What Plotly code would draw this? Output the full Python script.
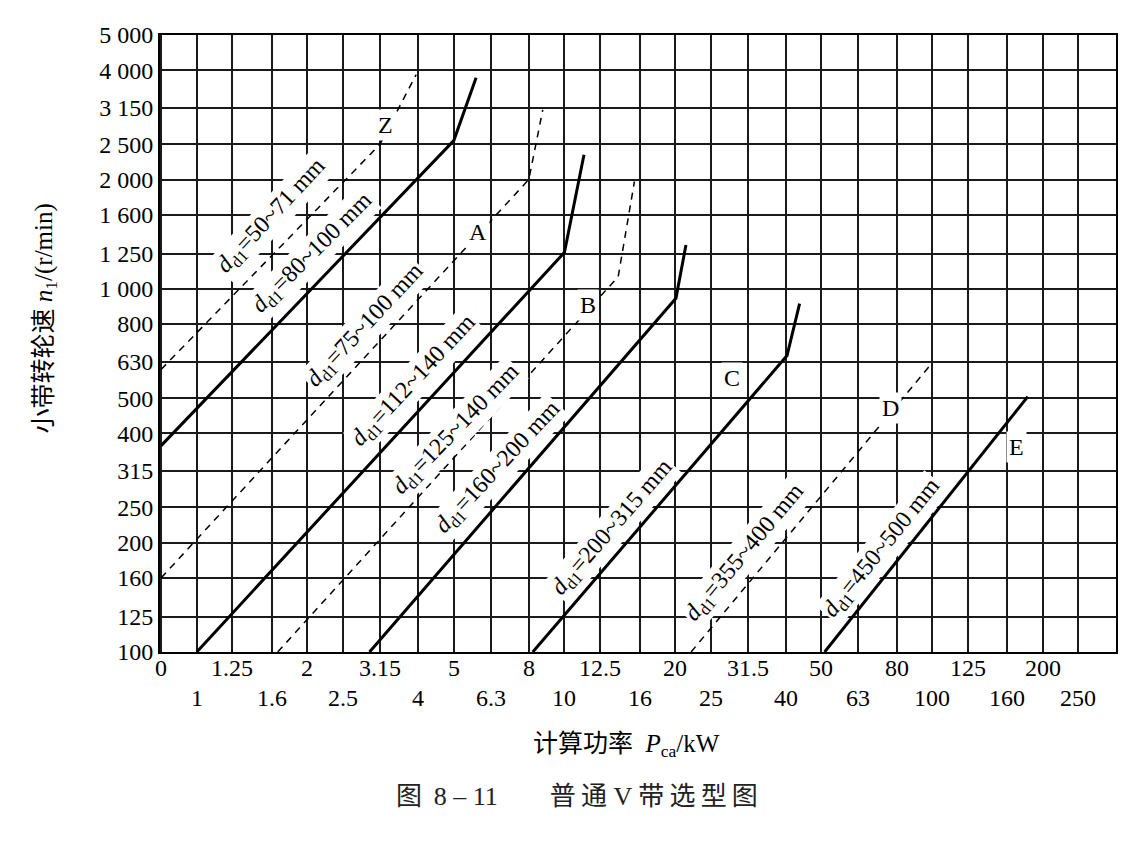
import math
import plotly.graph_objects as go

# ---------------- data ----------------
x_grid = [0.8, 1, 1.25, 1.6, 2, 2.5, 3.15, 4, 5, 6.3, 8, 10, 12.5, 16, 20, 25,
          31.5, 40, 50, 63, 80, 100, 125, 160, 200, 250, 315]
x_upper_vals = [0.8, 1.25, 2, 3.15, 5, 8, 12.5, 20, 31.5, 50, 80, 125, 200]
x_upper_text = ["0", "1.25", "2", "3.15", "5", "8", "12.5", "20", "31.5", "50", "80", "125", "200"]
x_lower_vals = [1, 1.6, 2.5, 4, 6.3, 10, 16, 25, 40, 63, 100, 160, 250]
x_lower_text = ["1", "1.6", "2.5", "4", "6.3", "10", "16", "25", "40", "63", "100", "160", "250"]
y_ticks = [100, 125, 160, 200, 250, 315, 400, 500, 630, 800, 1000, 1250, 1600, 2000,
           2500, 3150, 4000, 5000]
y_ticktext = ["100", "125", "160", "200", "250", "315", "400", "500", "630", "800",
              "1 000", "1 250", "1 600", "2 000", "2 500", "3 150", "4 000", "5 000"]

z_small_p = [0.8, 3.15, 3.95]
z_small_n = [600, 2500, 3890]
z_large_p = [0.8, 5.0, 5.75]
z_large_n = [370, 2560, 3810]
a_small_p = [0.8, 8.0, 8.73]
a_small_n = [160, 2000, 3110]
a_large_p = [1.0, 10.0, 11.3]
a_large_n = [100, 1260, 2340]
b_small_p = [1.66, 14.0, 15.5]
b_small_n = [100, 1080, 1975]
b_large_p = [2.95, 20.1, 21.4]
b_large_n = [100, 942, 1320]
c_p = [8.2, 40.3, 43.6]
c_n = [100, 655, 910]
d_p = [22.1, 98]
d_n = [100, 610]
e_p = [51, 182]
e_n = [100, 505]

curve_labels = ["<i>d</i><sub>d1</sub>=50~71 mm", "<i>d</i><sub>d1</sub>=80~100 mm",
                "<i>d</i><sub>d1</sub>=75~100 mm", "<i>d</i><sub>d1</sub>=112~140 mm",
                "<i>d</i><sub>d1</sub>=125~140 mm", "<i>d</i><sub>d1</sub>=160~200 mm",
                "<i>d</i><sub>d1</sub>=200~315 mm", "<i>d</i><sub>d1</sub>=355~400 mm",
                "<i>d</i><sub>d1</sub>=450~500 mm"]
curve_label_p = [1.6, 2.07, 2.87, 3.9, 5.07, 6.6, 13.5, 31, 73.4]
curve_label_n = [1590, 1257, 791, 558, 409, 321, 220, 187, 193]
curve_label_angle = [-47, -45, -47, -47, -46, -47, -49, -50, -51]

type_labels = ["Z", "A", "B", "C", "D", "E"]
type_label_p = [3.27, 5.82, 11.58, 28.5, 76.8, 170]
type_label_n = [2830, 1436, 903, 569, 470, 367]

FONT = "Liberation Serif, 'Noto Sans CJK SC', serif"
TS = "\u2009"  # thin space used for the spaced-out caption lettering

fig = go.Figure()
curves = [
    (z_small_p, z_small_n, "dash"), (z_large_p, z_large_n, "solid"),
    (a_small_p, a_small_n, "dash"), (a_large_p, a_large_n, "solid"),
    (b_small_p, b_small_n, "dash"), (b_large_p, b_large_n, "solid"),
    (c_p, c_n, "solid"), (d_p, d_n, "dash"), (e_p, e_n, "solid"),
]
for px, py, style in curves:
    if style == "dash":
        line = dict(color="black", width=1.5, dash="7px,6px")
    else:
        line = dict(color="black", width=3)
    fig.add_trace(go.Scatter(x=px, y=py, mode="lines", line=line,
                             showlegend=False, hoverinfo="skip"))

annotations = []
for t, p, n, a in zip(curve_labels, curve_label_p, curve_label_n, curve_label_angle):
    annotations.append(dict(x=math.log10(p), y=math.log10(n), xref="x", yref="y",
                            xanchor="center", yanchor="middle",
                            text=t, textangle=a, showarrow=False, bgcolor="white",
                            borderpad=1, font=dict(family=FONT, size=24, color="black")))
for t, p, n in zip(type_labels, type_label_p, type_label_n):
    annotations.append(dict(x=math.log10(p), y=math.log10(n), xref="x", yref="y",
                            xanchor="center", yanchor="middle",
                            text=t, showarrow=False, bgcolor="white", borderpad=2,
                            font=dict(family=FONT, size=24, color="black")))

# two rows of x tick labels
for v, t in zip(x_upper_vals, x_upper_text):
    annotations.append(dict(x=math.log10(v), y=0, xref="x", yref="paper",
                            xanchor="center", yanchor="middle", yshift=-16,
                            text=t, showarrow=False,
                            font=dict(family=FONT, size=24, color="black")))
for v, t in zip(x_lower_vals, x_lower_text):
    annotations.append(dict(x=math.log10(v), y=0, xref="x", yref="paper",
                            xanchor="center", yanchor="middle", yshift=-46,
                            text=t, showarrow=False,
                            font=dict(family=FONT, size=24, color="black")))

annotations.append(dict(x=-0.12, y=0.541, xref="paper", yref="paper",
                        xanchor="center", yanchor="middle",
                        text="小带转轮速 <i>n</i><sub>1</sub>/(r/min)", textangle=-90,
                        showarrow=False, font=dict(family=FONT, size=25, color="black")))
annotations.append(dict(x=0.488, y=-0.151, xref="paper", yref="paper",
                        xanchor="center", yanchor="middle",
                        text="计算功率  <i>P</i><sub>ca</sub>/kW",
                        showarrow=False, font=dict(family=FONT, size=25, color="black")))
caption = ("图" + TS + " 8 – 11" + "　　" + TS.join("普通") + " V " + TS.join("带选型图"))
annotations.append(dict(x=0.436, y=-0.235, xref="paper", yref="paper",
                        xanchor="center", yanchor="middle",
                        text=caption,
                        showarrow=False, font=dict(family=FONT, size=26, color="#222")))

fig.update_layout(
    width=1135, height=843,
    margin=dict(l=160, r=19, t=35, b=191),
    paper_bgcolor="white", plot_bgcolor="white",
    font=dict(family=FONT, size=24, color="black"),
    annotations=annotations,
    xaxis=dict(type="log", range=[-0.1, 2.5], tickvals=x_grid, showticklabels=False,
               showgrid=True, gridcolor="#1a1a1a", gridwidth=1.5, showline=True,
               linecolor="black", linewidth=2, mirror=True, ticks="", zeroline=False),
    yaxis=dict(type="log", range=[2, math.log10(5000)], tickvals=y_ticks, ticktext=y_ticktext,
               showgrid=True, gridcolor="#1a1a1a", gridwidth=1.5, showline=True,
               linecolor="black", linewidth=2, mirror=True, ticks="", zeroline=False,
               tickfont=dict(family=FONT, size=24, color="black")),
)

fig.write_html("out.html")
